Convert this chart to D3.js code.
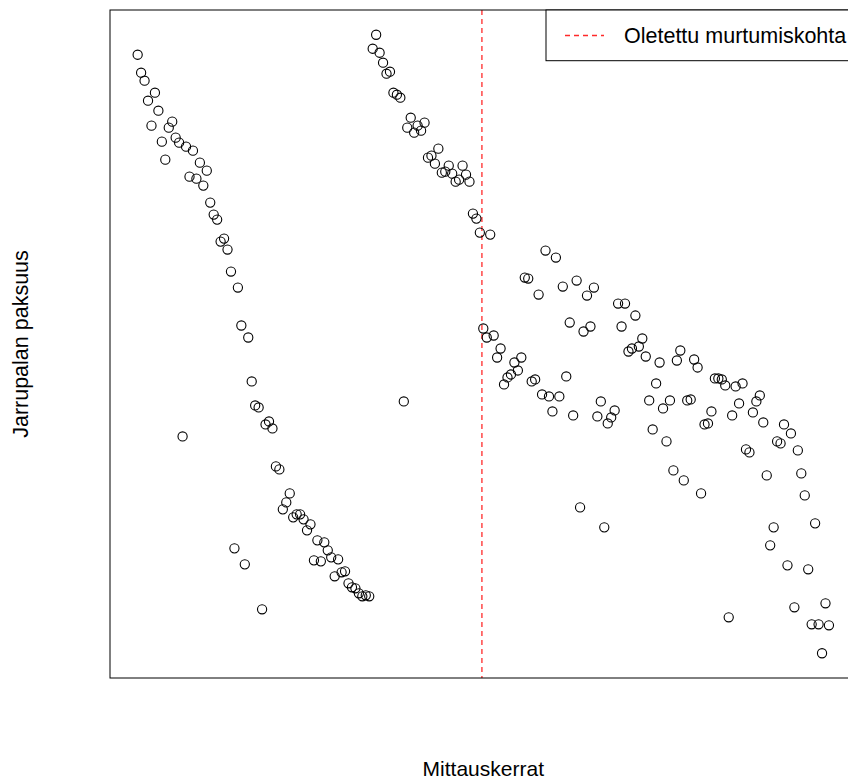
<!DOCTYPE html>
<html>
<head>
<meta charset="utf-8">
<script src="https://cdn.jsdelivr.net/npm/d3@7"></script>
<style>
  html, body { margin: 0; padding: 0; background: #fff; overflow: hidden; }
  svg { display: block; }
  text { font-family: "Liberation Sans", Arial, Helvetica, sans-serif; fill: #000; }
</style>
</head>
<body>
<svg id="chart" width="848" height="781"></svg>
<script>
// Jarrupalan paksuus per mittauskerta (mittauskerrat 1..201)
const paksuus = [
  64.6, 62.8, 62.0, 60.0, 57.5, 60.8, 59.0, 55.9, 54.1, 57.3,
  57.9, 56.3, 55.8, 26.4, 55.4, 52.4, 55.0, 52.2, 53.8, 51.5,
  53.0, 49.8, 48.6, 48.1, 45.9, 46.2, 45.1, 42.9, 15.2, 41.3,
  37.5, 13.6, 36.3, 31.9, 29.5, 29.3, 9.1, 27.6, 27.9, 27.2,
  23.4, 23.1, 19.1, 19.8, 20.7, 18.3, 18.6, 18.6, 18.1, 17.0,
  17.6, 14.0, 16.0, 13.9, 15.8, 15.0, 14.3, 12.4, 14.1, 12.8,
  12.9, 11.7, 11.3, 11.2, 10.7, 10.4, 10.5, 10.4, 65.2, 66.6,
  64.8, 63.8, 62.7, 62.9, 60.8, 60.6, 60.3, 29.9, 57.3, 58.3,
  56.8, 57.5, 57.0, 57.8, 54.3, 54.5, 53.7, 55.2, 52.8, 52.9,
  53.5, 52.7, 51.9, 52.1, 53.5, 52.6, 51.9, 48.7, 48.2, 46.8,
  37.2, 36.3, 46.6, 36.5, 34.3, 35.2, 31.6, 32.3, 32.6, 33.8,
  33.0, 34.3, 42.3, 42.2, 31.9, 32.1, 40.6, 30.6, 45.0, 30.4,
  28.9, 44.3, 30.4, 41.4, 32.4, 37.8, 28.5, 42.0, 19.3, 36.9,
  40.5, 37.4, 41.3, 28.4, 29.9, 17.3, 27.7, 28.3, 29.0, 39.7,
  37.4, 39.7, 34.9, 35.2, 38.5, 35.4, 36.2, 34.4, 30.0, 27.1,
  31.7, 33.8, 29.2, 25.9, 30.0, 23.0, 34.0, 35.0, 22.0, 30.0,
  30.1, 34.1, 33.3, 20.7, 27.6, 27.7, 28.9, 32.2, 32.2, 32.1,
  31.5, 8.3, 28.5, 31.4, 29.7, 31.7, 25.1, 24.8, 28.8, 29.9,
  30.5, 27.8, 22.5, 15.5, 17.3, 25.9, 25.7, 27.6, 13.5, 26.7,
  9.3, 25.0, 22.7, 20.5, 13.1, 7.6, 17.7, 7.6, 4.7, 9.7,
  7.5
];
const mittauskerrat = d3.range(1, paksuus.length + 1);

// Oletettu murtumiskohta (mittauskerta)
const murtumiskohta = 100.6;

const xOtsikko = "Mittauskerrat";
const yOtsikko = "Jarrupalan paksuus";
const selite = "Oletettu murtumiskohta";

// Plot region (R-style: 4% padding around the data range)
const plot = { left: 110, top: 10, right: 856.6, bottom: 678 };

function padded(ext) {
  const d = (ext[1] - ext[0]) * 0.04;
  return [ext[0] - d, ext[1] + d];
}

const x = d3.scaleLinear()
  .domain(padded(d3.extent(mittauskerrat)))
  .range([plot.left, plot.right]);
const y = d3.scaleLinear()
  .domain(padded(d3.extent(paksuus)))
  .range([plot.bottom, plot.top]);

const svg = d3.select("#chart");

// Breakpoint line
svg.append("line")
  .attr("x1", x(murtumiskohta)).attr("x2", x(murtumiskohta))
  .attr("y1", plot.top).attr("y2", plot.bottom)
  .attr("stroke", "#ff2a2a")
  .attr("stroke-width", 1.3)
  .attr("stroke-dasharray", "5,4");

// Points
svg.append("g")
  .selectAll("circle")
  .data(paksuus)
  .join("circle")
  .attr("cx", (d, i) => x(mittauskerrat[i]))
  .attr("cy", d => y(d))
  .attr("r", 4.6)
  .attr("fill", "none")
  .attr("stroke", "#000")
  .attr("stroke-width", 1.1);

// Frame
svg.append("rect")
  .attr("x", plot.left).attr("y", plot.top)
  .attr("width", plot.right - plot.left)
  .attr("height", plot.bottom - plot.top)
  .attr("fill", "none")
  .attr("stroke", "#000")
  .attr("stroke-width", 1);

// Legend (top right)
const leg = svg.append("g");
leg.append("rect")
  .attr("x", 546).attr("y", plot.top)
  .attr("width", plot.right - 546).attr("height", 50.7)
  .attr("fill", "#fff")
  .attr("stroke", "#000")
  .attr("stroke-width", 1);
leg.append("line")
  .attr("x1", 565).attr("x2", 604)
  .attr("y1", 35.5).attr("y2", 35.5)
  .attr("stroke", "#ff2a2a")
  .attr("stroke-width", 1.3)
  .attr("stroke-dasharray", "5,4");
leg.append("text")
  .attr("x", 624).attr("y", 43)
  .attr("font-size", 21.5)
  .text(selite);

// Axis titles
svg.append("text")
  .attr("x", (plot.left + plot.right) / 2)
  .attr("y", 776)
  .attr("text-anchor", "middle")
  .attr("font-size", 21)
  .text(xOtsikko);

svg.append("text")
  .attr("transform", `translate(28,${(plot.top + plot.bottom) / 2}) rotate(-90)`)
  .attr("text-anchor", "middle")
  .attr("font-size", 21.5)
  .text(yOtsikko);
</script>
</body>
</html>
